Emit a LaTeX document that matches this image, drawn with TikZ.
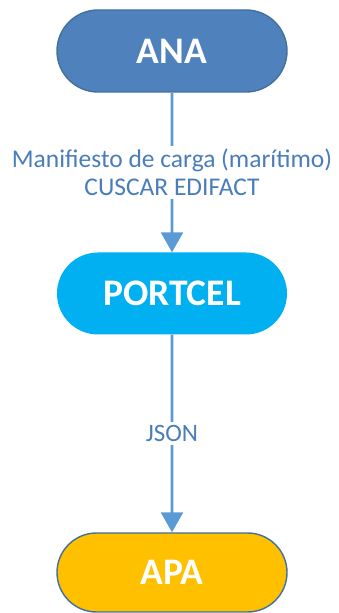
\documentclass[tikz,border=0pt]{standalone}
\usepackage{fontspec}
\setmainfont{Carlito}
\usetikzlibrary{shapes.misc,arrows.meta}
\definecolor{anafill}{HTML}{4F81BD}
\definecolor{anaborder}{HTML}{41719C}
\definecolor{portfill}{HTML}{00B0F0}
\definecolor{apafill}{HTML}{FFC000}
\definecolor{apaborder}{HTML}{41719C}
\definecolor{arrowcol}{HTML}{5B9BD5}
\definecolor{labelcol}{HTML}{4A7EBB}
\tikzset{
  term/.style={rounded rectangle, minimum width=230pt, minimum height=82pt, inner sep=0pt,
    text=white, font=\fontsize{37.5}{40}\selectfont\bfseries},
  flow/.style={draw=arrowcol, line width=2.6pt, -{Triangle[length=20pt,width=22pt]}},
  flowlabel/.style={fill=white, text=labelcol, font=\fontsize{25.5}{27.5}\selectfont, align=center, inner sep=3pt}
}
\begin{document}
\begin{tikzpicture}[x=1pt,y=1pt]
\useasboundingbox (0,0) rectangle (339,613);
\node[term, fill=anafill, draw=anaborder, line width=1.4pt] (ana) at (172,562) {ANA};
\node[term, fill=portfill] (portcel) at (172,319.5) {PORTCEL};
\node[term, fill=apafill, draw=apaborder, line width=1.4pt, minimum height=79pt] (apa) at (172,40.5) {APA};
\draw[flow] (ana) -- node[flowlabel] (l1) {Manifiesto de carga (marítimo)\\CUSCAR EDIFACT} (portcel);
\draw[flow] (portcel) -- node[flowlabel, font=\fontsize{25}{27}\selectfont] (l2) {JSON} (apa);
\end{tikzpicture}
\end{document}
